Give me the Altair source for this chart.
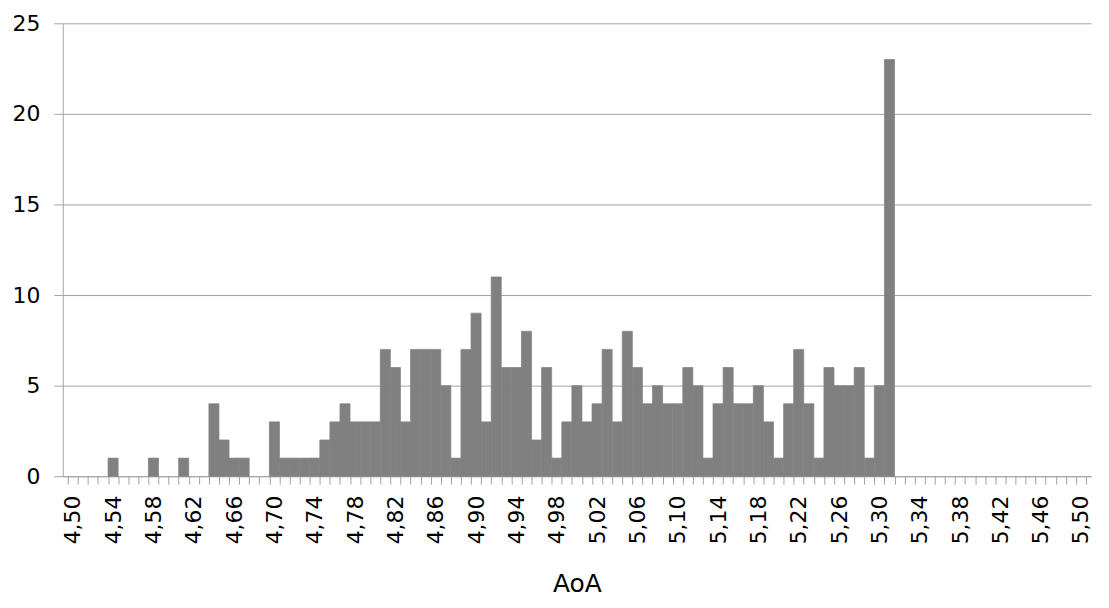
import altair as alt
import pandas as pd

# Histogram categories (AoA bins, 0.01 wide) and counts
aoa = [round(4.50 + 0.01 * i, 2) for i in range(101)]
counts = [0, 0, 0, 0, 1, 0, 0, 0, 1, 0,
          0, 1, 0, 0, 4, 2, 1, 1, 0, 0,
          3, 1, 1, 1, 1, 2, 3, 4, 3, 3,
          3, 7, 6, 3, 7, 7, 7, 5, 1, 7,
          9, 3, 11, 6, 6, 8, 2, 6, 1, 3,
          5, 3, 4, 7, 3, 8, 6, 4, 5, 4,
          4, 6, 5, 1, 4, 6, 4, 4, 5, 3,
          1, 4, 7, 4, 1, 6, 5, 5, 6, 1,
          5, 23,
          0, 0, 0, 0, 0, 0, 0, 0, 0, 0,
          0, 0, 0, 0, 0, 0, 0, 0, 0]
label_values = [round(4.50 + 0.04 * k, 2) for k in range(26)]
tick_values = [round(4.495 + 0.01 * k, 3) for k in range(102)]
y_values = [0, 5, 10, 15, 20, 25]

half = 0.005
df = pd.DataFrame({
    "aoa": aoa,
    "lo": [a - half for a in aoa],
    "hi": [a + half for a in aoa],
    "count": counts,
})

FONT = "DejaVu Sans"
GRID = "#a3a3a3"
BAR = "#808080"

xscale = alt.Scale(domain=[4.495, 5.505], nice=False, zero=False)
yenc = alt.Y(
    "count:Q",
    scale=alt.Scale(domain=[0, 25], nice=False),
    axis=alt.Axis(
        values=y_values, title=None, grid=True, gridColor=GRID,
        domainColor=GRID, tickColor=GRID, tickSize=9, labelPadding=14,
        labelFontSize=22, labelFont=FONT, labelColor="#000000",
    ),
)

base = alt.Chart(df)

bars = base.mark_bar(
    color=BAR, stroke=BAR, strokeWidth=0.7, orient="vertical"
).encode(
    x=alt.X(
        "lo:Q", scale=xscale,
        axis=alt.Axis(
            orient="bottom", values=label_values, ticks=False, grid=False,
            labelAngle=270, labelExpr="replace(format(datum.value, '.2f'), '.', ',')",
            labelFontSize=22, labelFont=FONT, labelColor="#000000",
            labelPadding=19, domainColor=GRID,
            title="AoA", titleFont=FONT, titleFontSize=25, titleFontWeight="normal",
            titleColor="#000000", titlePadding=28,
        ),
    ),
    x2="hi:Q",
    y=yenc,
    y2=alt.datum(0),
).transform_filter(alt.datum.count > 0)

tick_layer = base.mark_bar(opacity=0, orient="vertical").encode(
    x=alt.X(
        "lo:Q", scale=xscale,
        axis=alt.Axis(
            orient="bottom", values=tick_values, labels=False, domain=False,
            grid=False, ticks=True, tickSize=8, tickColor=GRID, title=None,
        ),
    ),
    x2="hi:Q",
    y=yenc,
    y2=alt.datum(0),
)

chart = (
    alt.layer(bars, tick_layer)
    .resolve_axis(x="independent")
    .properties(
        width=1033, height=455,
        autosize=alt.AutoSizeParams(type="none"),
        padding={"left": 55, "top": 14, "right": 10, "bottom": 123},
    )
    .configure_view(stroke=None)
)

chart.save("out.html", embed_options={"renderer": "svg", "actions": False})
